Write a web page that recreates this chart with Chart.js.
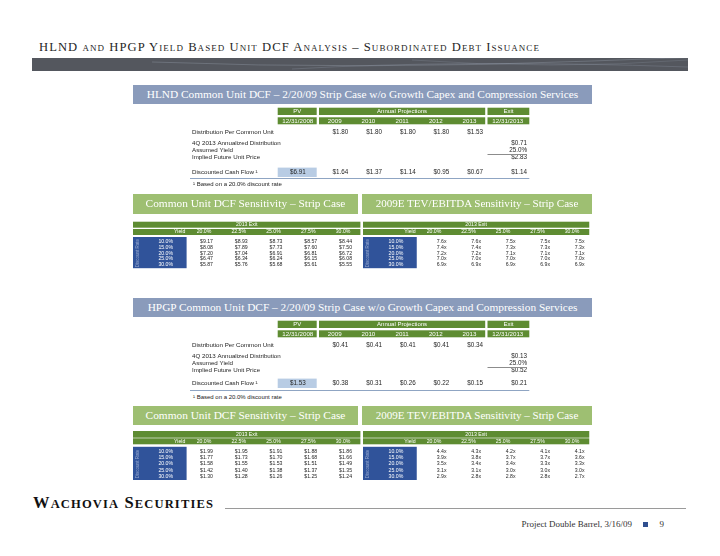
<!DOCTYPE html>
<html>
<head>
<meta charset="utf-8">
<script src="https://cdn.jsdelivr.net/npm/chart.js@4.4.1/dist/chart.umd.min.js"></script>
<style>
  html, body { margin:0; padding:0; }
  body { width:720px; height:556px; position:relative; overflow:hidden; background:#fff; font-family:'Liberation Sans', Arial, sans-serif; }
  .abs { position:absolute; }
  .fit { display:inline-block; white-space:nowrap; line-height:1; }
  .serif { font-family:'Liberation Serif', 'Times New Roman', serif; }
  .sc { font-variant:small-caps; }
  .bar { display:flex; align-items:center; justify-content:center; color:#fff; overflow:hidden; }
  .bluebar { background:#8a9bbb; }
  .greenbar { background:#9ebf72; }
  .note { font-size:6px; color:#222; white-space:nowrap; line-height:8px; }
  canvas { position:absolute; }
  .sm { font-size:0.76em; }
</style>
</head>
<body>

<!-- page title and band -->
<span id="title" class="abs fit serif sc" style="left:39px; top:40.5px; font-size:12.6px; color:#262626;">HLND and HPGP Yield Based Unit DCF Analysis – Subordinated Debt Issuance</span>
<div class="abs" style="left:32px; top:58px; width:656px; height:13px; background:#54575e; overflow:hidden;">
  <svg width="656" height="13" style="position:absolute;left:0;top:0">
    <path d="M120 4 Q 330 12 560 3 T 656 6" stroke="rgba(175,185,200,0.35)" stroke-width="0.8" fill="none"/>
    <path d="M260 11 Q 430 1 656 9" stroke="rgba(175,185,200,0.3)" stroke-width="0.7" fill="none"/>
    <path d="M380 2 Q 520 12 656 2" stroke="rgba(175,185,200,0.25)" stroke-width="0.7" fill="none"/>
  </svg>
</div>

<!-- HLND section -->
<div class="abs bar bluebar serif" style="left:133px; top:85px; width:459px; height:19px;"><span id="b1" class="fit">HLND Common Unit DCF – 2/20/09 Strip Case w/o Growth Capex and Compression Services</span></div>
<canvas id="hlndDcf" width="343" height="74" style="left:189px; top:107px;"></canvas>
<div class="abs note" style="left:193px; top:180px;">¹ Based on a 20.0% discount rate</div>

<div class="abs bar greenbar serif" style="left:133px; top:194px; width:225px; height:20px;"><span id="b2" class="fit">Common Unit DCF Sensitivity – Strip Case</span></div>
<div class="abs bar greenbar serif" style="left:362px; top:194px; width:230px; height:20px;"><span id="b3" class="fit">2009E TEV/EBITDA Sensitivity – Strip Case</span></div>
<canvas id="hlndDcfSens" width="229" height="48" style="left:133px; top:221px;"></canvas>
<canvas id="hlndTevSens" width="228" height="48" style="left:363px; top:221px;"></canvas>

<!-- HPGP section -->
<div class="abs bar bluebar serif" style="left:133px; top:298px; width:459px; height:19px;"><span id="b4" class="fit">HPGP Common Unit DCF – 2/20/09 Strip Case w/o Growth Capex and Compression Services</span></div>
<canvas id="hpgpDcf" width="343" height="73" style="left:189px; top:320px;"></canvas>
<div class="abs note" style="left:193px; top:392.5px;">¹ Based on a 20.0% discount rate</div>

<div class="abs bar greenbar serif" style="left:133px; top:406px; width:225px; height:19px;"><span id="b5" class="fit">Common Unit DCF Sensitivity – Strip Case</span></div>
<div class="abs bar greenbar serif" style="left:362px; top:406px; width:230px; height:19px;"><span id="b6" class="fit">2009E TEV/EBITDA Sensitivity – Strip Case</span></div>
<canvas id="hpgpDcfSens" width="229" height="50" style="left:133px; top:431px;"></canvas>
<canvas id="hpgpTevSens" width="228" height="50" style="left:363px; top:431px;"></canvas>

<!-- footer -->
<span id="logo" class="abs fit serif" style="left:33px; top:495px; font-size:16.5px; font-weight:bold; color:#111;">W<span class="sm">ACHOVIA</span> S<span class="sm">ECURITIES</span></span>
<div class="abs" style="left:225px; top:507.5px; width:461px; height:1px; background:#9a9a9a;"></div>
<span id="proj" class="abs fit serif" style="left:521.5px; top:520px; font-size:9px; color:#333;">Project Double Barrel, 3/16/09</span>
<div class="abs" style="left:642.5px; top:521.5px; width:5.5px; height:5.5px; background:#2f4f8f;"></div>
<span class="abs fit serif" style="left:659.5px; top:520px; font-size:9px; color:#333;">9</span>

<script>
// ---------------- data ----------------
const dcfGroups = ['PV', 'Annual Projections', 'Exit'];
const dcfColumns = ['12/31/2008', '2009', '2010', '2011', '2012', '2013', '12/31/2013'];
const dcfRows = ['Distribution Per Common Unit', '4Q 2013 Annualized Distribution', 'Assumed Yield', 'Implied Future Unit Price', 'Discounted Cash Flow ¹'];

const hlndDistribution = [1.80, 1.80, 1.80, 1.80, 1.53];
const hlndAnnualized = 0.71;
const hlndYield = 25.0;
const hlndImplied = 2.83;
const hlndDiscounted = [6.91, 1.64, 1.37, 1.14, 0.95, 0.67, 1.14];

const hpgpDistribution = [0.41, 0.41, 0.41, 0.41, 0.34];
const hpgpAnnualized = 0.13;
const hpgpYield = 25.0;
const hpgpImplied = 0.52;
const hpgpDiscounted = [1.53, 0.38, 0.31, 0.26, 0.22, 0.15, 0.21];

const exitYields = ['20.0%', '22.5%', '25.0%', '27.5%', '30.0%'];
const discountRates = ['10.0%', '15.0%', '20.0%', '25.0%', '30.0%'];

const hlndDcfSensitivity = [
  [9.17, 8.93, 8.73, 8.57, 8.44],
  [8.08, 7.89, 7.73, 7.60, 7.50],
  [7.20, 7.04, 6.91, 6.81, 6.72],
  [6.47, 6.34, 6.24, 6.15, 6.08],
  [5.87, 5.76, 5.68, 5.61, 5.55]
];
const hlndTevSensitivity = [
  [7.6, 7.6, 7.5, 7.5, 7.5],
  [7.4, 7.4, 7.3, 7.3, 7.3],
  [7.2, 7.2, 7.1, 7.1, 7.1],
  [7.0, 7.0, 7.0, 7.0, 7.0],
  [6.9, 6.9, 6.9, 6.9, 6.9]
];
const hpgpDcfSensitivity = [
  [1.99, 1.95, 1.91, 1.88, 1.86],
  [1.77, 1.73, 1.70, 1.68, 1.66],
  [1.58, 1.55, 1.53, 1.51, 1.49],
  [1.42, 1.40, 1.38, 1.37, 1.35],
  [1.30, 1.28, 1.26, 1.25, 1.24]
];
const hpgpTevSensitivity = [
  [4.4, 4.3, 4.2, 4.1, 4.1],
  [3.9, 3.8, 3.7, 3.7, 3.6],
  [3.5, 3.4, 3.4, 3.3, 3.3],
  [3.1, 3.1, 3.0, 3.0, 3.0],
  [2.9, 2.8, 2.8, 2.8, 2.7]
];

// ---------------- text fitting ----------------
function fitSize(id, target) {
  const el = document.getElementById(id);
  const fs = parseFloat(getComputedStyle(el).fontSize);
  const w = el.getBoundingClientRect().width;
  el.style.fontSize = (fs * target / w) + 'px';
}
function fitSpacing(id, target) {
  const el = document.getElementById(id);
  const w = el.getBoundingClientRect().width;
  el.style.letterSpacing = ((target - w) / el.textContent.length) + 'px';
}
fitSpacing('title', 501);
fitSize('b1', 432); fitSize('b4', 430);
fitSize('b2', 200); fitSize('b5', 200);
fitSize('b3', 203); fitSize('b6', 203);
fitSpacing('logo', 181);
fitSize('proj', 110.5);

// ---------------- Chart.js pieces ----------------
const FONT = "'Liberation Sans', Arial, sans-serif";
const GREEN = '#5e8c32';

class WeightedCategoryScale extends Chart.CategoryScale {
  static id = 'weightedCategory';
  static defaults = Chart.CategoryScale.defaults;
  _bounds(i) {
    const w = this.options.weights, g = this.options.gaps || [];
    let total = 0, acc = 0;
    for (let k = 0; k < w.length; k++) total += w[k] + (g[k] || 0);
    for (let k = 0; k < i; k++) acc += w[k] + (g[k] || 0);
    acc += (g[i] || 0);
    const h = this.isHorizontal();
    const s = h ? this.left : this.top;
    const span = h ? this.right - this.left : this.bottom - this.top;
    return [s + span * acc / total, s + span * (acc + w[i]) / total];
  }
  getPixelForValue(value) {
    if (typeof value !== 'number') value = this.parse(value);
    if (value === null || value === undefined || isNaN(value)) return NaN;
    const b = this._bounds(Math.max(0, Math.min(value, this.options.weights.length - 1)));
    return (b[0] + b[1]) / 2;
  }
}
Chart.register(WeightedCategoryScale);

function noAutoPad(s) { s.paddingTop = 0; s.paddingBottom = 0; s.paddingLeft = 0; s.paddingRight = 0; }

const tableDecor = {
  id: 'tableDecor',
  beforeDraw(chart, args, o) {
    const ctx = chart.ctx, xs = chart.scales.x, ys = chart.scales.y, ca = chart.chartArea;
    ctx.save();
    if (o.kind === 'sens') {
      const left = ys.left, right = xs.right, top = xs.top;
      ctx.fillStyle = o.headerColor;
      ctx.fillRect(left, top + o.row1[0], right - left, o.row1[1] - o.row1[0]);
      ctx.fillRect(left, top + o.row2[0], right - left, o.row2[1] - o.row2[0]);
      ctx.fillStyle = o.rateColor;
      ctx.fillRect(left, ca.top - o.rateOver, ys.right - left, ca.bottom - ca.top + o.rateOver + o.rateUnder);
      ctx.fillStyle = '#fff';
      ctx.font = o.headFont;
      ctx.textBaseline = 'middle';
      ctx.textAlign = 'center';
      ctx.fillText(o.title, (left + right) / 2, top + (o.row1[0] + o.row1[1]) / 2);
      ctx.textAlign = 'right';
      ctx.fillText(o.cornerLabel, ys.right - 1.2, top + (o.row2[0] + o.row2[1]) / 2);
    } else {
      const top = xs.top, n = dcfColumns.length;
      o.spans.forEach((sp, gi) => {
        let l = xs._bounds(sp[0])[0], r = xs._bounds(sp[1])[1];
        if (sp[0] > 0) l += o.gap;
        if (sp[1] < n - 1) r -= o.gap;
        ctx.fillStyle = o.headerColor;
        ctx.fillRect(l, top + o.row1[0], r - l, o.row1[1] - o.row1[0]);
        ctx.fillRect(l, top + o.row2[0], r - l, o.row2[1] - o.row2[0]);
        ctx.fillStyle = '#fff';
        ctx.font = o.headFont;
        ctx.textBaseline = 'middle';
        ctx.textAlign = 'center';
        ctx.fillText(o.groups[gi], (l + r) / 2, top + (o.row1[0] + o.row1[1]) / 2);
      });
      const hb = xs._bounds(o.highlightCol);
      const hy = ys.getPixelForValue(o.highlightRow);
      ctx.fillStyle = o.highlightColor;
      ctx.fillRect(hb[0], hy - o.highlightH / 2, hb[1] - o.gap - hb[0], o.highlightH);
    }
    ctx.restore();
  },
  afterDatasetsDraw(chart, args, o) {
    const ctx = chart.ctx, xs = chart.scales.x, ys = chart.scales.y, ca = chart.chartArea;
    const meta = chart.getDatasetMeta(0), data = chart.data.datasets[0].data;
    const xLabels = xs.getLabels();
    ctx.save();
    ctx.font = o.cellFont;
    ctx.fillStyle = o.cellColor;
    ctx.textBaseline = 'middle';
    meta.data.forEach((el, i) => {
      const p = data[i];
      const col = xLabels.indexOf(p.x);
      let x = el.x, align = 'right';
      if (o.kind === 'dcf') {
        if (col === 0) align = 'center';
        else x = xs._bounds(col)[1] - o.valueInset[col];
      } else {
        x = el.x + o.valueShift;
      }
      ctx.textAlign = align;
      ctx.fillText(p.t, x, el.y);
    });
    if (o.kind === 'dcf') {
      const ub = xs._bounds(o.underlineCol);
      const uy = Math.round(ys._bounds(o.underlineRow)[1]) + 0.5;
      ctx.strokeStyle = '#8c8c8c';
      ctx.lineWidth = 1;
      ctx.beginPath();
      ctx.moveTo(ub[0] + o.gap, uy); ctx.lineTo(ub[1] - 2.3, uy);
      ctx.stroke();
      const by = Math.round(ca.bottom) + 0.5;
      ctx.strokeStyle = o.lineColor;
      ctx.beginPath();
      ctx.moveTo(ys.left - 2, by); ctx.lineTo(ca.right, by);
      ctx.stroke();
    }
    ctx.restore();
  }
};

const money = v => '$' + v.toFixed(2);
const mult = v => v.toFixed(1) + 'x';

function dcfPoints(dist, annual, yld, implied, disc) {
  const pts = [];
  dist.forEach((v, i) => pts.push({ x: dcfColumns[i + 1], y: dcfRows[0], t: money(v) }));
  pts.push({ x: dcfColumns[6], y: dcfRows[1], t: money(annual) });
  pts.push({ x: dcfColumns[6], y: dcfRows[2], t: yld.toFixed(1) + '%' });
  pts.push({ x: dcfColumns[6], y: dcfRows[3], t: money(implied) });
  disc.forEach((v, i) => pts.push({ x: dcfColumns[i], y: dcfRows[4], t: money(v) }));
  return pts;
}

const noGrid = { display: false, drawTicks: false };
const DCF_YW = 85.7;

function dcfChart(id, pts, rowWeights, rowGaps) {
  new Chart(document.getElementById(id), {
    type: 'scatter',
    data: { datasets: [{ data: pts, pointRadius: 0, pointHoverRadius: 0 }] },
    options: {
      responsive: false, animation: false, events: [], devicePixelRatio: 1,
      layout: { autoPadding: false, padding: { left: 3, right: 2.7, top: 0, bottom: 3 } },
      plugins: {
        legend: { display: false }, tooltip: { enabled: false },
        tableDecor: {
          kind: 'dcf', groups: dcfGroups, spans: [[0, 0], [1, 5], [6, 6]],
          row1: [0.7, 8], row2: [10.3, 17.3], gap: 1.15, headerColor: GREEN,
          headFont: '6px ' + FONT,
          highlightCol: 0, highlightRow: 4, highlightH: 9.4, highlightColor: '#b8cce4',
          underlineCol: 6, underlineRow: 2, lineColor: '#8fa5c3',
          cellFont: '6.3px ' + FONT, cellColor: '#262626',
          valueInset: [0, 3.3, 3.3, 3.3, 3.3, 3.3, 2.3]
        }
      },
      scales: {
        x: {
          type: 'weightedCategory', labels: dcfColumns, weights: [40.15, 33.7, 33.7, 33.7, 33.7, 33.7, 42.95],
          position: 'top', grid: noGrid, border: { display: false },
          ticks: { color: '#fff', font: { family: FONT, size: 6.2, lineHeight: 1 }, padding: 2.1, autoSkip: false, maxRotation: 0, minRotation: 0 },
          afterFit(s) { s.height = 19; noAutoPad(s); }
        },
        y: {
          type: 'weightedCategory', labels: dcfRows, weights: rowWeights, gaps: rowGaps,
          position: 'left', grid: noGrid, border: { display: false },
          ticks: { color: '#1e1e1e', font: { family: FONT, size: 6.2, lineHeight: 1 }, mirror: true, padding: -DCF_YW, autoSkip: false },
          afterFit(s) { s.width = DCF_YW; noAutoPad(s); }
        }
      }
    },
    plugins: [tableDecor]
  });
}

function sensChart(id, values, fmt, cfg) {
  const pts = [];
  discountRates.forEach((r, i) => exitYields.forEach((y, j) => pts.push({ x: y, y: r, t: fmt(values[i][j]) })));
  new Chart(document.getElementById(id), {
    type: 'scatter',
    data: { datasets: [{ data: pts, pointRadius: 0, pointHoverRadius: 0 }] },
    options: {
      responsive: false, animation: false, events: [], devicePixelRatio: 1,
      layout: { autoPadding: false, padding: { left: 0, right: cfg.padR, top: 0, bottom: cfg.padB } },
      plugins: {
        legend: { display: false }, tooltip: { enabled: false },
        tableDecor: {
          kind: 'sens', title: '2013 Exit', cornerLabel: 'Yield',
          row1: cfg.row1, row2: cfg.row2, headerColor: GREEN, rateColor: '#30539a',
          rateOver: 1.8, rateUnder: 0.6,
          headFont: '5.2px ' + FONT, cellFont: '5.2px ' + FONT, cellColor: '#262626',
          valueShift: cfg.shift
        }
      },
      scales: {
        x: {
          type: 'category', labels: exitYields, offset: true, position: 'top',
          grid: noGrid, border: { display: false },
          ticks: { color: '#fff', font: { family: FONT, size: 5.2, lineHeight: 1 }, padding: cfg.tickPad, autoSkip: false, maxRotation: 0, minRotation: 0 },
          afterFit(s) { s.height = cfg.axisH; noAutoPad(s); }
        },
        y: {
          type: 'category', labels: discountRates, offset: true, position: 'left',
          grid: noGrid, border: { display: false },
          ticks: { color: '#fff', font: { family: FONT, size: 5.2, lineHeight: 1 }, crossAlign: 'center', padding: 13.5, autoSkip: false },
          title: { display: true, text: 'Discount Rate', color: 'rgba(225,232,245,0.55)', font: { family: FONT, size: 4.5, lineHeight: 1.2 }, padding: { top: 1.8, bottom: 0 } },
          afterFit(s) { s.width = cfg.yW; noAutoPad(s); }
        }
      }
    },
    plugins: [tableDecor]
  });
}

dcfChart('hlndDcf', dcfPoints(hlndDistribution, hlndAnnualized, hlndYield, hlndImplied, hlndDiscounted),
  [13.3, 8, 6.8, 7.2, 11.4], [0, 0, 0, 0, 5.3]);
dcfChart('hpgpDcf', dcfPoints(hpgpDistribution, hpgpAnnualized, hpgpYield, hpgpImplied, hpgpDiscounted),
  [13.3, 8, 6.8, 7.2, 13.4], [0, 0, 0, 0, 2.3]);

const topSens = { axisH: 17.8, row1: [0.7, 6.7], row2: [8, 14], tickPad: 4.2, padB: 1.4 };
const botSens = { axisH: 17.6, row1: [0, 6.7], row2: [7.3, 13.3], tickPad: 4.7, padB: 1.6 };
sensChart('hlndDcfSens', hlndDcfSensitivity, money, Object.assign({}, topSens, { yW: 53.6, padR: 1.6, shift: 9 }));
sensChart('hlndTevSens', hlndTevSensitivity, mult, Object.assign({}, topSens, { yW: 53.75, padR: 1.75, shift: 12.5 }));
sensChart('hpgpDcfSens', hpgpDcfSensitivity, money, Object.assign({}, botSens, { yW: 53.6, padR: 1.6, shift: 9 }));
sensChart('hpgpTevSens', hpgpTevSensitivity, mult, Object.assign({}, botSens, { yW: 53.75, padR: 1.75, shift: 12.5 }));
</script>
</body>
</html>
